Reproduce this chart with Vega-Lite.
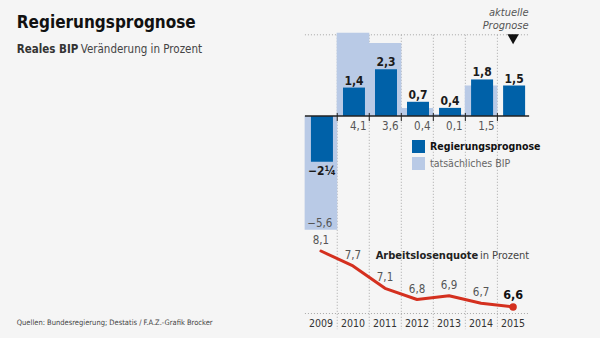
{
  "$schema": "https://vega.github.io/schema/vega-lite/v6.json",
  "width": 600,
  "height": 338,
  "autosize": "none",
  "padding": 0,
  "background": "#f5f5f5",
  "config": {
    "view": {"stroke": null},
    "locale": {"number": {"decimal": ",", "thousands": ".", "grouping": [3], "currency": ["", " €"], "minus": "−"}},
    "text": {"font": "DejaVu Sans Condensed, sans-serif"}
  },
  "data": {
    "values": [
      {"year": 2009, "prog": -2.25, "progText": "−2¼", "ist": -5.6, "alq": 8.1},
      {"year": 2010, "prog": 1.4, "ist": 4.1, "alq": 7.7},
      {"year": 2011, "prog": 2.3, "ist": 3.6, "alq": 7.1},
      {"year": 2012, "prog": 0.7, "ist": 0.4, "alq": 6.8},
      {"year": 2013, "prog": 0.4, "ist": 0.1, "alq": 6.9},
      {"year": 2014, "prog": 1.8, "ist": 1.5, "alq": 6.7},
      {"year": 2015, "prog": 1.5, "ist": null, "alq": 6.6}
    ]
  },
  "resolve": {"scale": {"y": "independent"}},
  "layer": [
    {
      "layer": [
        {
          "transform": [{"filter": "datum.year < 2015"}],
          "mark": {"type": "rule", "stroke": "#a8a8a8", "strokeWidth": 1, "strokeDash": [1, 2], "xOffset": 16.3},
          "encoding": {
            "x": {"field": "year", "type": "quantitative", "scale": {"domain": [1999.135, 2017.557], "nice": false, "zero": false}, "axis": null},
            "y": {"datum": 4, "type": "quantitative", "scale": {"domain": [-10.936, 5.714], "nice": false, "zero": false}, "axis": null},
            "y2": {"datum": -10.5}
          }
        },
        {
          "transform": [{"filter": "datum.year == 2009"}],
          "mark": {"type": "rule", "stroke": "#a8a8a8", "strokeWidth": 1, "strokeDash": [1, 2]},
          "encoding": {
            "x": {"datum": 2008.5, "type": "quantitative"},
            "x2": {"datum": 2015.5},
            "y": {"datum": 4, "type": "quantitative", "scale": {"domain": [-10.936, 5.714], "nice": false, "zero": false}}
          }
        },
        {
          "transform": [{"filter": "datum.year == 2009"}],
          "mark": {"type": "rule", "stroke": "#a8a8a8", "strokeWidth": 1, "strokeDash": [1, 2]},
          "encoding": {
            "x": {"datum": 2008.5, "type": "quantitative"},
            "x2": {"datum": 2015.5},
            "y": {"datum": -9.73, "type": "quantitative", "scale": {"domain": [-10.936, 5.714], "nice": false, "zero": false}}
          }
        },
        {
          "transform": [{"filter": "isValid(datum.ist)"}],
          "mark": {"type": "bar", "width": 32.6},
          "encoding": {
            "x": {"field": "year", "type": "quantitative"},
            "y": {"field": "ist", "type": "quantitative", "scale": {"domain": [-10.936, 5.714], "nice": false, "zero": false}},
            "y2": {"datum": 0},
            "color": {"datum": "tatsächliches BIP", "type": "nominal"}
          }
        },
        {
          "mark": {"type": "bar", "width": 22, "xOffset": 1},
          "encoding": {
            "x": {"field": "year", "type": "quantitative"},
            "y": {"field": "prog", "type": "quantitative", "scale": {"domain": [-10.936, 5.714], "nice": false, "zero": false}},
            "y2": {"datum": 0},
            "color": {
              "datum": "Regierungsprognose",
              "type": "nominal",
              "scale": {"domain": ["Regierungsprognose", "tatsächliches BIP"], "range": ["#0061a8", "#b9cae6"]},
              "legend": {
                "orient": "none", "legendX": 412, "legendY": 140, "title": null, "padding": 0,
                "symbolType": "square", "symbolSize": 169, "symbolStrokeWidth": 0, "symbolOpacity": 1,
                "labelFont": "DejaVu Sans Condensed, sans-serif",
                "labelFontSize": 10.5, "labelOffset": 5, "rowPadding": 4, "labelColor": "#222",
                "encode": {"labels": {"update": {
                  "fontWeight": {"signal": "datum.value == 'Regierungsprognose' ? 'bold' : 'normal'"},
                  "fill": {"signal": "datum.value == 'Regierungsprognose' ? '#111' : '#666'"}
                }}}
              }
            }
          }
        },
        {
          "transform": [{"filter": "datum.year == 2009"}],
          "mark": {"type": "rule", "stroke": "#222", "strokeWidth": 1.5},
          "encoding": {
            "x": {"datum": 2008.5, "type": "quantitative"},
            "x2": {"datum": 2015.5},
            "y": {"datum": 0, "type": "quantitative", "scale": {"domain": [-10.936, 5.714], "nice": false, "zero": false}}
          }
        },
        {
          "transform": [{"filter": "datum.year < 2015"}],
          "mark": {"type": "rule", "stroke": "#222", "strokeWidth": 1, "xOffset": 16.3},
          "encoding": {
            "x": {"field": "year", "type": "quantitative"},
            "y": {"datum": 0.15, "type": "quantitative", "scale": {"domain": [-10.936, 5.714], "nice": false, "zero": false}},
            "y2": {"datum": -0.25}
          }
        },
        {
          "transform": [{"filter": "datum.prog > 0"}],
          "mark": {"type": "text", "fontSize": 12, "fontWeight": "bold", "fill": "#1a1a1a", "baseline": "alphabetic", "dy": -3, "xOffset": 1},
          "encoding": {
            "x": {"field": "year", "type": "quantitative"},
            "y": {"field": "prog", "type": "quantitative", "scale": {"domain": [-10.936, 5.714], "nice": false, "zero": false}},
            "text": {"field": "prog", "type": "quantitative", "format": ".1f"}
          }
        },
        {
          "transform": [{"filter": "datum.prog < 0"}],
          "mark": {"type": "text", "fontSize": 12, "fontWeight": "bold", "fill": "#1a1a1a", "baseline": "top", "dy": 4, "xOffset": 1},
          "encoding": {
            "x": {"field": "year", "type": "quantitative"},
            "y": {"field": "prog", "type": "quantitative", "scale": {"domain": [-10.936, 5.714], "nice": false, "zero": false}},
            "text": {"field": "progText", "type": "nominal"}
          }
        },
        {
          "transform": [{"filter": "datum.ist > 0"}],
          "mark": {"type": "text", "fontSize": 11.5, "fill": "#555", "baseline": "top", "align": "right", "dy": 5, "xOffset": 13.5},
          "encoding": {
            "x": {"field": "year", "type": "quantitative"},
            "y": {"datum": 0, "type": "quantitative", "scale": {"domain": [-10.936, 5.714], "nice": false, "zero": false}},
            "text": {"field": "ist", "type": "quantitative", "format": ".1f"}
          }
        },
        {
          "transform": [{"filter": "datum.ist < 0"}],
          "mark": {"type": "text", "fontSize": 11.5, "fill": "#555", "baseline": "alphabetic", "align": "right", "dy": -3, "xOffset": 11.5},
          "encoding": {
            "x": {"field": "year", "type": "quantitative"},
            "y": {"field": "ist", "type": "quantitative", "scale": {"domain": [-10.936, 5.714], "nice": false, "zero": false}},
            "text": {"field": "ist", "type": "quantitative", "format": ".1f"}
          }
        },
        {
          "mark": {"type": "text", "fontSize": 10.5, "fill": "#333", "baseline": "alphabetic"},
          "encoding": {
            "x": {"field": "year", "type": "quantitative"},
            "y": {"datum": -10.39, "type": "quantitative", "scale": {"domain": [-10.936, 5.714], "nice": false, "zero": false}},
            "text": {"field": "year", "type": "nominal"}
          }
        },
        {
          "transform": [{"filter": "datum.year == 2015"}],
          "mark": {"type": "point", "shape": "triangle-down", "filled": true, "fill": "#111", "opacity": 1, "size": 130},
          "encoding": {
            "x": {"field": "year", "type": "quantitative"},
            "y": {"datum": 3.78, "type": "quantitative", "scale": {"domain": [-10.936, 5.714], "nice": false, "zero": false}}
          }
        },
        {
          "transform": [{"filter": "datum.year == 2015"}],
          "mark": {"type": "text", "text": "aktuelle", "fontSize": 11, "fontStyle": "italic", "fill": "#555", "align": "right", "xOffset": 15.5, "baseline": "alphabetic"},
          "encoding": {
            "x": {"field": "year", "type": "quantitative"},
            "y": {"datum": 4.926, "type": "quantitative", "scale": {"domain": [-10.936, 5.714], "nice": false, "zero": false}}
          }
        },
        {
          "transform": [{"filter": "datum.year == 2015"}],
          "mark": {"type": "text", "text": "Prognose", "fontSize": 11, "fontStyle": "italic", "fill": "#555", "align": "right", "xOffset": 15.5, "baseline": "alphabetic"},
          "encoding": {
            "x": {"field": "year", "type": "quantitative"},
            "y": {"datum": 4.286, "type": "quantitative", "scale": {"domain": [-10.936, 5.714], "nice": false, "zero": false}}
          }
        },
        {
          "transform": [{"filter": "datum.year == 2009"}],
          "mark": {"type": "text", "text": "Regierungsprognose", "fontSize": 17, "fontWeight": "bold", "fill": "#111", "align": "left", "baseline": "alphabetic"},
          "encoding": {
            "x": {"datum": 1999.503, "type": "quantitative"},
            "y": {"datum": 4.335, "type": "quantitative", "scale": {"domain": [-10.936, 5.714], "nice": false, "zero": false}}
          }
        },
        {
          "transform": [{"filter": "datum.year == 2009"}],
          "mark": {"type": "text", "text": "Reales BIP", "fontSize": 11.5, "fontWeight": "bold", "fill": "#333", "align": "left", "baseline": "alphabetic"},
          "encoding": {
            "x": {"datum": 1999.503, "type": "quantitative"},
            "y": {"datum": 3.103, "type": "quantitative", "scale": {"domain": [-10.936, 5.714], "nice": false, "zero": false}}
          }
        },
        {
          "transform": [{"filter": "datum.year == 2009"}],
          "mark": {"type": "text", "text": "Veränderung in Prozent", "fontSize": 11.5, "fill": "#444", "align": "left", "baseline": "alphabetic"},
          "encoding": {
            "x": {"datum": 2001.499, "type": "quantitative"},
            "y": {"datum": 3.103, "type": "quantitative", "scale": {"domain": [-10.936, 5.714], "nice": false, "zero": false}}
          }
        },
        {
          "transform": [{"filter": "datum.year == 2009"}],
          "mark": {"type": "text", "text": "Quellen: Bundesregierung; Destatis / F.A.Z.-Grafik Brocker", "fontSize": 7.5, "fill": "#444", "align": "left", "baseline": "alphabetic"},
          "encoding": {
            "x": {"datum": 1999.503, "type": "quantitative"},
            "y": {"datum": -10.296, "type": "quantitative", "scale": {"domain": [-10.936, 5.714], "nice": false, "zero": false}}
          }
        },
        {
          "transform": [{"filter": "datum.year == 2009"}],
          "mark": {"type": "text", "text": "Arbeitslosenquote", "fontSize": 11, "fontWeight": "bold", "fill": "#222", "align": "left", "baseline": "alphabetic"},
          "encoding": {
            "x": {"datum": 2010.71, "type": "quantitative"},
            "y": {"datum": -7.044, "type": "quantitative", "scale": {"domain": [-10.936, 5.714], "nice": false, "zero": false}}
          }
        },
        {
          "transform": [{"filter": "datum.year == 2009"}],
          "mark": {"type": "text", "text": "in Prozent", "fontSize": 11, "fill": "#444", "align": "left", "baseline": "alphabetic"},
          "encoding": {
            "x": {"datum": 2013.965, "type": "quantitative"},
            "y": {"datum": -7.044, "type": "quantitative", "scale": {"domain": [-10.936, 5.714], "nice": false, "zero": false}}
          }
        }
      ]
    },
    {
      "layer": [
        {
          "mark": {"type": "line", "stroke": "#d4301f", "strokeWidth": 3, "strokeCap": "round", "strokeJoin": "round"},
          "encoding": {
            "x": {"field": "year", "type": "quantitative"},
            "y": {"field": "alq", "type": "quantitative", "scale": {"domain": [5.768, 14.829], "nice": false, "zero": false}, "axis": null}
          }
        },
        {
          "transform": [{"filter": "datum.year == 2015"}],
          "mark": {"type": "circle", "fill": "#d4301f", "opacity": 1, "size": 55},
          "encoding": {
            "x": {"field": "year", "type": "quantitative"},
            "y": {"field": "alq", "type": "quantitative", "scale": {"domain": [5.768, 14.829], "nice": false, "zero": false}}
          }
        },
        {
          "transform": [{"filter": "datum.year < 2015"}],
          "mark": {"type": "text", "fontSize": 11.5, "fill": "#555", "baseline": "alphabetic", "dy": -7},
          "encoding": {
            "x": {"field": "year", "type": "quantitative"},
            "y": {"field": "alq", "type": "quantitative", "scale": {"domain": [5.768, 14.829], "nice": false, "zero": false}},
            "text": {"field": "alq", "type": "quantitative", "format": ".1f"}
          }
        },
        {
          "transform": [{"filter": "datum.year == 2015"}],
          "mark": {"type": "text", "fontSize": 12.5, "fontWeight": "bold", "fill": "#111", "baseline": "alphabetic", "dy": -8},
          "encoding": {
            "x": {"field": "year", "type": "quantitative"},
            "y": {"field": "alq", "type": "quantitative", "scale": {"domain": [5.768, 14.829], "nice": false, "zero": false}},
            "text": {"field": "alq", "type": "quantitative", "format": ".1f"}
          }
        }
      ]
    }
  ]
}
